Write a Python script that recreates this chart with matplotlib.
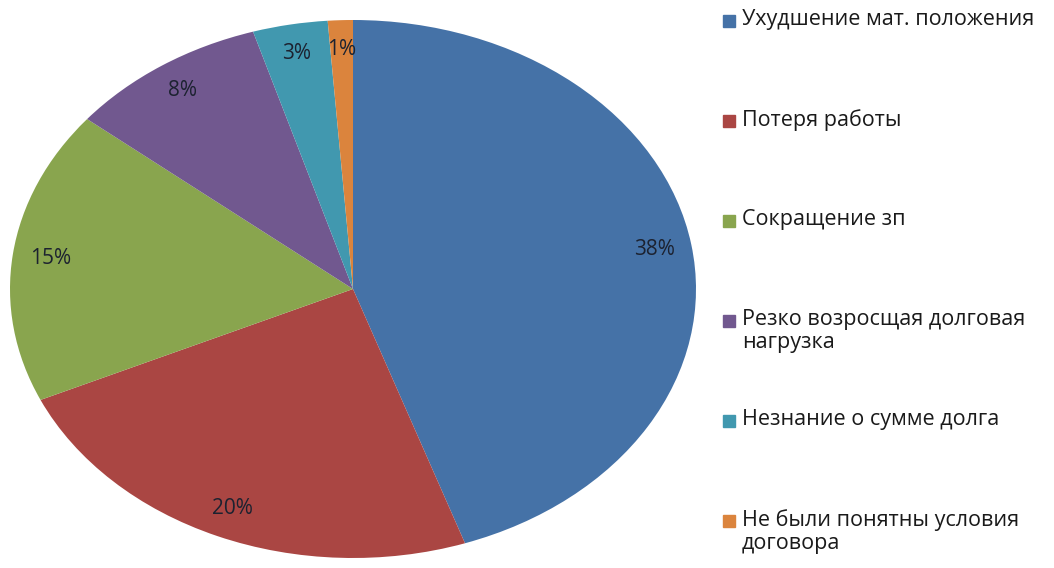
import numpy as np
import matplotlib
matplotlib.use("Agg")
from matplotlib import pyplot as plt
from matplotlib.patches import Rectangle

# reasons for debt, values as printed on the slices (%)
labels = ["Ухудшение мат. положения",
          "Потеря работы",
          "Сокращение зп",
          "Резко возросщая долговая\nнагрузка",
          "Незнание о сумме долга",
          "Не были понятны условия\nдоговора"]
values = [38, 20, 15, 8, 3, 1]
colors = ["#4572A7", "#AA4643", "#89A54E", "#71588F", "#4198AF", "#DB843D"]

plt.rcParams['font.family'] = ['Open Sans', 'DejaVu Sans']

W, H = 1054, 568
fig = plt.figure(figsize=(W / 100, H / 100), dpi=100)
# pie is stretched horizontally in the reference -> aspect auto
ax = fig.add_axes([10 / W, 10 / H, 686 / W, 538 / H])
total = sum(values)
wedges, texts, autotexts = ax.pie(
    values, colors=colors, startangle=90, counterclock=False,
    autopct=lambda p: "{0:.0f}%".format(p * total / 100),
    pctdistance=0.89, textprops=dict(fontsize=15, color="#1c2230"))
ax.set_aspect("auto")
ax.set_xlim(-1, 1)
ax.set_ylim(-1, 1)
ax.axis("off")

# legend, evenly spaced entries like the original
x_box = 723 / W
x_txt = 742 / W
y0 = 21
step = 100
for i, (lab, col) in enumerate(zip(labels, colors)):
    y = y0 + i * step
    fig.add_artist(Rectangle((x_box, 1 - (y + 6) / H), 12 / W, 12 / H,
                             transform=fig.transFigure, color=col))
    fig.text(x_txt, 1 - (y - 12) / H, lab, fontsize=15.5, va="top", ha="left",
             color="#1a1a1a", linespacing=1.15)

fig.savefig("out.png", dpi=100)
